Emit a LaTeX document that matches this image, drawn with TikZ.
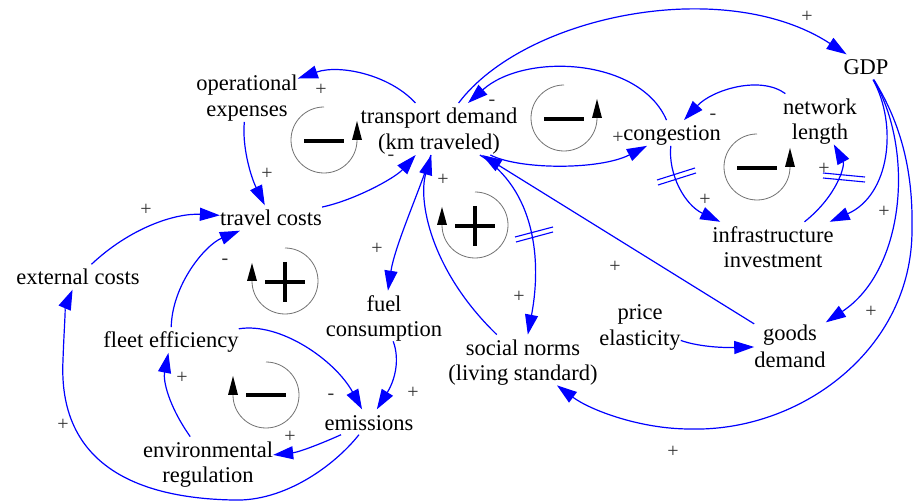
\documentclass[tikz,border=0pt]{standalone}
\usepackage{fontspec}
\setmainfont{Liberation Serif}
\usetikzlibrary{arrows.meta}
\definecolor{lnk}{RGB}{0,0,255}
\newcommand\vs{\rule[-4.5pt]{0pt}{25pt}}
\begin{document}
\begin{tikzpicture}[x=1pt,y=-1pt,
  var/.style={inner sep=0pt, align=center, font=\fontsize{22.5}{25}\selectfont},
  sgn/.style={inner sep=0pt, text=black!80, font=\fontsize{20}{20}\selectfont},
  link/.style={draw=lnk, line width=1.2pt, -{Triangle[length=20pt,width=13pt]}},
  hash/.style={draw=lnk, line width=1.1pt},
  ring/.style={draw=black!55, line width=0.8pt},
  loopsign/.style={draw=black, line width=3.4pt},
  looptip/.style={fill=black}]
\useasboundingbox (0,0) rectangle (913,502);
\fill[white] (0,0) rectangle (913,502);

% variables
\node[var] (oe) at (247,96) {operational\vs\\expenses\vs};
\node[var] (td) at (439,129) {transport demand\vs\\(km traveled)\vs};
\node[var] (cg) at (672,133) {congestion\vs};
\node[var] (nl) at (820,119) {network\vs\\length\vs};
\node[var] (gdp) at (866,67) {GDP\vs};
\node[var] (ii) at (773,247) {infrastructure\vs\\investment\vs};
\node[var] (tc) at (271,218) {travel costs\vs};
\node[var] (ec) at (78,277) {external costs\vs};
\node[var] (fe) at (171,340) {fleet efficiency\vs};
\node[var] (fc) at (384,316) {fuel\vs\\consumption\vs};
\node[var] (em) at (369,422) {emissions\vs};
\node[var] (er) at (208,462) {environmental\vs\\regulation\vs};
\node[var] (sn) at (523,360) {social norms\vs\\(living standard)\vs};
\node[var] (pe) at (640,325) {price\vs\\elasticity\vs};
\node[var] (gd) at (790,346) {goods\vs\\demand\vs};

% loop markers (balancing, arrow right)
\foreach \cx/\cy in {324/140, 564/118, 757/167} {
  \begin{scope}[shift={(\cx,\cy)},y=1pt]
    \draw[ring] (0,33) arc[start angle=90,end angle=360,radius=33];
    \fill[looptip] (28,0) -- (38,0) -- (33,19) -- cycle;
    \draw[loopsign] (-20,-1) -- (20,-1);
  \end{scope}
}
% balancing, arrow left
\begin{scope}[shift={(266,395)},y=1pt]
  \draw[ring] (0,33) arc[start angle=90,end angle=-180,radius=33];
  \fill[looptip] (-38,0) -- (-28,0) -- (-33,19) -- cycle;
  \draw[loopsign] (-20,0) -- (20,0);
\end{scope}
% reinforcing, arrow left
\foreach \cx/\cy in {475/225, 285/281} {
  \begin{scope}[shift={(\cx,\cy)},y=1pt]
    \draw[ring] (0,33) arc[start angle=90,end angle=-180,radius=33];
    \fill[looptip] (-38,0) -- (-28,0) -- (-33,18) -- cycle;
    \draw[loopsign] (-20,-1) -- (20,-1);
    \draw[loopsign] (0,19) -- (0,-21);
  \end{scope}
}

% links
\draw[link] ([shift={(-27,-34)}]td) .. controls (390,75) and (340,64) .. ([shift={(53,-28)}]oe);
\draw[link] ([shift={(-5,21)}]oe) .. controls (242,145) and (250,175) .. ([shift={(-11,-23)}]tc);
\draw[link] ([shift={(54,-9)}]tc) .. controls (355,200) and (395,178) .. ([shift={(-16,21)}]td);
\draw[link] ([shift={(-9,24)}]td) .. controls (420,190) and (395,245) .. ([shift={(4,-29)}]fc);
\draw[link] ([shift={(-50,-42)}]sn) .. controls (430,270) and (418,200) .. ([shift={(-12,23)}]td);
\draw[link] ([shift={(43,23)}]td) .. controls (535,190) and (542,260) .. ([shift={(15,-43)}]sn);
\draw[link] ([shift={(43,23)}]td) .. controls (520,170) and (600,170) .. ([shift={(-25,9)}]cg);
\draw[link] ([shift={(-12,-25)}]cg) .. controls (640,58) and (525,52) .. ([shift={(26,-34)}]td);
\draw[link] ([shift={(26,-34)}]td) .. controls (525,15) and (725,-25) .. ([shift={(-28,-21)}]gdp);
\draw[link] ([shift={(-33,-31)}]nl) .. controls (760,75) and (712,90) .. ([shift={(14,-23)}]cg);
\draw[link] ([shift={(-2,9)}]cg) .. controls (668,175) and (685,205) .. ([shift={(-63,-25)}]ii);
\draw[link] ([shift={(55,-34)}]ii) .. controls (838,195) and (845,165) .. ([shift={(23,19)}]nl);
\draw[link] ([shift={(12,11)}]gdp) .. controls (898,125) and (890,195) .. ([shift={(65,-25)}]ii);
\draw[link] ([shift={(12,11)}]gdp) .. controls (915,150) and (905,270) .. ([shift={(42,-31)}]gd);
\draw[link] ([shift={(14,11)}]gdp) .. controls (905,130) and (913,180) .. (912,230)
  .. controls (912,350) and (800,432) .. (690,429)
  .. controls (640,429) and (590,410) .. ([shift={(39,30)}]sn);
\draw[link] ([shift={(-41,-30)}]gd) -- ([shift={(43,23)}]td);
\draw[link] ([shift={(40,13)}]pe) .. controls (693,345) and (715,348) .. ([shift={(-50,1)}]gd);
\draw[link] ([shift={(13,17)}]fc) .. controls (400,360) and (395,380) .. ([shift={(15,-23)}]em);
\draw[link] ([shift={(65,-20)}]fe) .. controls (280,322) and (335,360) .. ([shift={(-7,-24)}]em);
\draw[link] ([shift={(1,-22)}]fe) .. controls (172,285) and (205,245) .. ([shift={(-38,9)}]tc);
\draw[link] ([shift={(22,-27)}]ec) .. controls (130,228) and (175,213) .. ([shift={(-53,-6)}]tc);
\draw[link] ([shift={(-24,10)}]em) .. controls (325,442) and (300,452) .. ([shift={(66,-8)}]er);
\draw[link] ([shift={(-27,-34)}]er) .. controls (168,405) and (163,380) .. ([shift={(-7,10)}]fe);
\draw[link] ([shift={(-9,10)}]em) .. controls (335,465) and (285,502) .. (233,500)
  .. controls (130,498) and (58,460) .. (63,360)
  .. controls (64,330) and (66,305) .. ([shift={(-8,10)}]ec);

% delay marks
\draw[hash] (657,180) -- (695,168);
\draw[hash] (658,185) -- (696,173);
\draw[hash] (515,237) -- (553,227);
\draw[hash] (516,242) -- (553,232);
\draw[hash] (823,173) -- (865,177);
\draw[hash] (823,178) -- (865,182);

% polarity signs
\node[sgn] (s1) at (321,90) {+};
\node[sgn] (s2) at (267,174) {+};
\node[sgn] (s3) at (391,158) {-};
\node[sgn] (s4) at (377,249) {+};
\node[sgn] (s5) at (443,180) {+};
\node[sgn] (s6) at (519,297) {+};
\node[sgn] (s7) at (618,138) {+};
\node[sgn] (s8) at (492,103) {-};
\node[sgn] (s9) at (807,17) {+};
\node[sgn] (s10) at (713,117) {-};
\node[sgn] (s11) at (705,200) {+};
\node[sgn] (s12) at (824,169) {+};
\node[sgn] (s13) at (884,212) {+};
\node[sgn] (s14) at (871,312) {+};
\node[sgn] (s15) at (673,452) {+};
\node[sgn] (s16) at (615,267) {+};
\node[sgn] (s17) at (146,210) {+};
\node[sgn] (s18) at (225,262) {-};
\node[sgn] (s19) at (182,378) {+};
\node[sgn] (s20) at (331,397) {-};
\node[sgn] (s21) at (413,393) {+};
\node[sgn] (s22) at (290,437) {+};
\node[sgn] (s23) at (63,425) {+};
\end{tikzpicture}
\end{document}
